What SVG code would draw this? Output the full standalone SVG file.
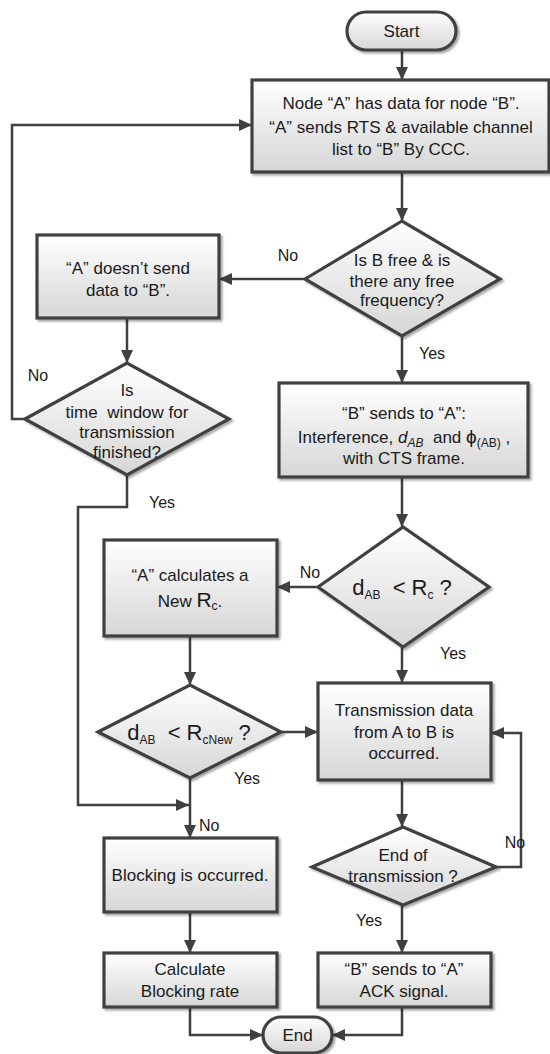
<svg xmlns="http://www.w3.org/2000/svg" width="550" height="1054" viewBox="0 0 550 1054">
<defs>
<linearGradient id="g" x1="0" y1="0" x2="0" y2="1">
<stop offset="0" stop-color="#ffffff"/>
<stop offset="1" stop-color="#d6d6d6"/>
</linearGradient>
<filter id="sh" x="-10%" y="-10%" width="125%" height="130%">
<feDropShadow dx="2" dy="2" stdDeviation="1.2" flood-color="#000" flood-opacity="0.35"/>
</filter>
<marker id="ah" markerUnits="userSpaceOnUse" markerWidth="14" markerHeight="12" refX="13" refY="6" orient="auto">
<path d="M0,0 L13,6 L0,12 z" fill="#404040"/>
</marker>
<style>
.n{fill:url(#g);stroke:#404040;stroke-width:3.2;filter:url(#sh)}
.c{fill:none;stroke:#404040;stroke-width:2.5}
.a{marker-end:url(#ah)}
text{font-family:"Liberation Sans",Arial,sans-serif;font-size:17px;fill:#1a1a1a;text-anchor:middle}
.big{font-size:22px}
.sub{font-size:12px}
.lb{font-size:16px}
</style>
</defs>

<g id="connectors">
<line class="c a" x1="402" y1="50" x2="402" y2="80"/>
<line class="c a" x1="402" y1="172" x2="402" y2="221"/>
<line class="c a" x1="305" y1="279" x2="219" y2="279"/>
<line class="c a" x1="127" y1="318" x2="127" y2="363"/>
<polyline class="c a" points="25,419 12,419 12,125 252,125"/>
<line class="c a" x1="402" y1="336" x2="402" y2="383"/>
<line class="c a" x1="402" y1="477" x2="402" y2="527"/>
<line class="c a" x1="318" y1="587" x2="277" y2="587"/>
<line class="c a" x1="190" y1="636" x2="190" y2="685"/>
<line class="c a" x1="281" y1="732" x2="318" y2="732"/>
<line class="c a" x1="402" y1="647" x2="402" y2="683"/>
<line class="c a" x1="190" y1="778" x2="190" y2="838"/>
<polyline class="c a" points="127,475 127,507 78,507 78,805 189,805"/>
<line class="c a" x1="402" y1="780" x2="402" y2="827"/>
<polyline class="c a" points="496,867 521,867 521,733 491,733"/>
<line class="c a" x1="402" y1="905" x2="402" y2="953"/>
<line class="c a" x1="190" y1="912" x2="190" y2="953"/>
<polyline class="c a" points="190,1007 190,1035 263,1035"/>
<polyline class="c a" points="402,1007 402,1035 332,1035"/>
</g>

<g id="labels">
<text class="lb" x="288" y="261">No</text>
<text class="lb" x="432" y="359">Yes</text>
<text class="lb" x="38" y="381">No</text>
<text class="lb" x="162" y="508">Yes</text>
<text class="lb" x="310" y="578">No</text>
<text class="lb" x="453" y="659">Yes</text>
<text class="lb" x="247" y="784">Yes</text>
<text class="lb" x="199" y="831" style="text-anchor:start">No</text>
<text class="lb" x="515" y="848">No</text>
<text class="lb" x="369" y="926">Yes</text>
</g>

<g id="start">
<rect class="n" x="347" y="12" width="109" height="38" rx="19"/>
<text x="401.5" y="37">Start</text>
</g>

<g id="box1">
<rect class="n" x="252" y="80" width="297" height="92"/>
<text x="401" y="109">Node “A” has data for node “B”.</text>
<text x="401" y="133">“A” sends RTS &amp; available channel</text>
<text x="401" y="155">list to “B” By CCC.</text>
</g>

<g id="dec1">
<polygon class="n" points="305,279 402,221 500,279 402,336"/>
<text x="402" y="266">Is B free &amp; is</text>
<text x="402" y="287">there any free</text>
<text x="402" y="306">frequency?</text>
</g>

<g id="nosend">
<rect class="n" x="37" y="235" width="182" height="83"/>
<text x="128" y="274">“A” doesn’t send</text>
<text x="128" y="296">data to “B”.</text>
</g>

<g id="dec2">
<polygon class="n" points="25,419 127,363 229,419 127,475"/>
<text x="127" y="396">Is</text>
<text x="127" y="418" xml:space="preserve">time  window for</text>
<text x="127" y="438">transmission</text>
<text x="127" y="458">finished?</text>
</g>

<g id="bsends">
<rect class="n" x="279" y="383" width="249" height="94"/>
<text x="404" y="419">“B” sends to “A”:</text>
<text x="404" y="443" xml:space="preserve">Interference, <tspan font-style="italic">d</tspan><tspan class="sub" font-style="italic" dy="4">AB</tspan><tspan dy="-4">  and </tspan><tspan font-size="19">ϕ</tspan><tspan class="sub" dy="4">(AB)</tspan><tspan dy="-4"> ,</tspan></text>
<text x="404" y="464">with CTS frame.</text>
</g>

<g id="dec3">
<polygon class="n" points="318,587 403,527 489,587 403,647"/>
<text x="402" y="595" xml:space="preserve"><tspan class="big">d</tspan><tspan class="sub" dy="4">AB</tspan><tspan class="big" dy="-4">  &lt; R</tspan><tspan class="sub" dy="4">c</tspan><tspan class="big" dy="-4"> ?</tspan></text>
</g>

<g id="newrc">
<rect class="n" x="104" y="540" width="173" height="96"/>
<text x="190" y="581">“A” calculates a</text>
<text x="190" y="607">New <tspan font-size="21">R</tspan><tspan class="sub" dy="3">c</tspan><tspan dy="-3">.</tspan></text>
</g>

<g id="dec4">
<polygon class="n" points="98,732 190,685 281,732 190,778"/>
<text x="189" y="740" xml:space="preserve"><tspan class="big">d</tspan><tspan class="sub" dy="4">AB</tspan><tspan class="big" dy="-4">  &lt; R</tspan><tspan class="sub" dy="4">cNew</tspan><tspan class="big" dy="-4"> ?</tspan></text>
</g>

<g id="transmit">
<rect class="n" x="318" y="683" width="173" height="97"/>
<text x="404" y="716">Transmission data</text>
<text x="404" y="738">from A to B is</text>
<text x="404" y="759">occurred.</text>
</g>

<g id="dec5">
<polygon class="n" points="312,867 403,827 496,867 403,905"/>
<text x="403" y="861">End of</text>
<text x="403" y="882">transmission ?</text>
</g>

<g id="blocking">
<rect class="n" x="104" y="838" width="173" height="74"/>
<text x="190" y="881">Blocking is occurred.</text>
</g>

<g id="calc">
<rect class="n" x="104" y="953" width="173" height="54"/>
<text x="190" y="975">Calculate</text>
<text x="190" y="997">Blocking rate</text>
</g>

<g id="ack">
<rect class="n" x="318" y="953" width="173" height="54"/>
<text x="404" y="975">“B” sends to “A”</text>
<text x="404" y="997">ACK signal.</text>
</g>

<g id="end">
<rect class="n" x="263" y="1017" width="69" height="36" rx="18"/>
<text x="297.5" y="1041">End</text>
</g>
</svg>
